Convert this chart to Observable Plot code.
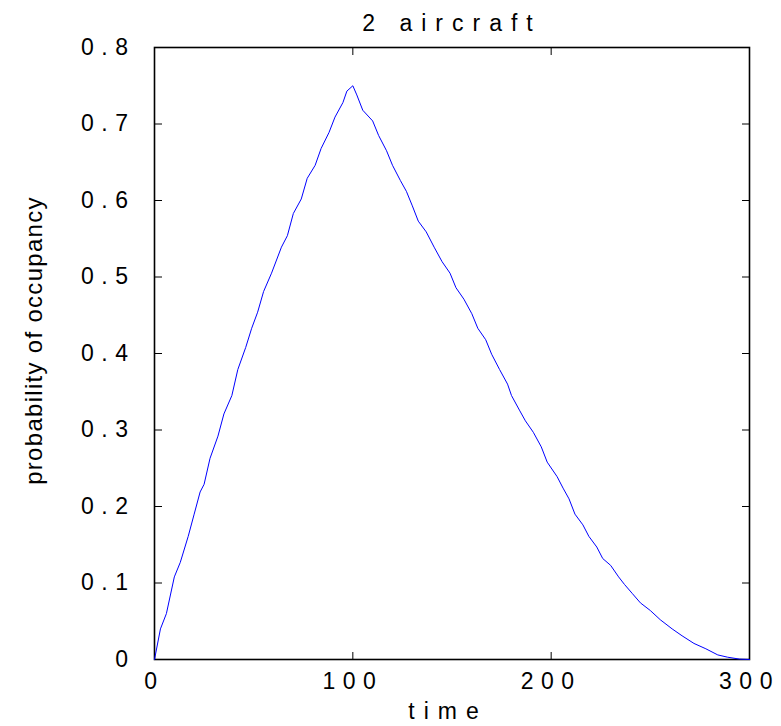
<!DOCTYPE html>
<html>
<head>
<meta charset="utf-8">
<script src="https://cdn.jsdelivr.net/npm/d3@7"></script>
<script src="https://cdn.jsdelivr.net/npm/@observablehq/plot@0.6"></script>
<style>
  html, body { margin: 0; padding: 0; background: #fff; }
  #chart svg { font-family: "Liberation Sans", Arial, sans-serif; }
  .spaced text { letter-spacing: 7.5px; }
  .titlesp text { letter-spacing: 9px; }
  .xlab text { letter-spacing: 9px; }
  .ylab text { letter-spacing: 1.3px; }
</style>
</head>
<body>
<div id="chart"></div>
<script>
const title = "2 aircraft";
const xLabel = "time";
const yLabel = "probability of occupancy";
const xTicks = [0, 100, 200, 300];
const yTicks = [0, 0.1, 0.2, 0.3, 0.4, 0.5, 0.6, 0.7, 0.8];

// time values and probability of occupancy
const time = [0, 3, 6, 10, 13, 17, 20, 23, 25, 28, 32, 35, 39, 42, 46, 49, 52, 55, 59, 64, 67, 70, 74, 77, 81, 84, 88, 91, 95, 97, 100,
  102, 105, 110, 113, 117, 120, 124, 127, 130, 133, 137, 141, 145, 149, 152, 156, 160, 163, 167, 170, 174, 178, 180, 184, 187, 191, 195, 198, 203, 206, 209, 212, 216, 219, 223, 226, 230, 234, 237, 241, 245, 250, 255, 261, 266, 272, 278, 284, 289, 295, 300];
const prob = [0, 0.040, 0.060, 0.108, 0.127, 0.161, 0.190, 0.219, 0.229, 0.263, 0.292, 0.321, 0.345, 0.379, 0.408, 0.433, 0.454, 0.481, 0.505, 0.539, 0.554, 0.583, 0.602, 0.629, 0.646, 0.668, 0.689, 0.709, 0.728, 0.743, 0.750,
  0.738, 0.718, 0.704, 0.685, 0.665, 0.646, 0.626, 0.612, 0.593, 0.573, 0.559, 0.539, 0.520, 0.505, 0.486, 0.471, 0.452, 0.433, 0.418, 0.399, 0.379, 0.360, 0.345, 0.326, 0.312, 0.297, 0.278, 0.258, 0.239, 0.224, 0.210, 0.190, 0.176, 0.161, 0.147, 0.132, 0.123, 0.108, 0.098, 0.086, 0.074, 0.064, 0.052, 0.040, 0.031, 0.021, 0.014, 0.006, 0.003, 0.0005, 0];

const data = time.map((t, i) => ({t, p: prob[i]}));

const chart = Plot.plot({
  width: 781,
  height: 726,
  marginLeft: 154,
  marginRight: 32,
  marginTop: 47,
  marginBottom: 67,
  style: {fontFamily: "'Liberation Sans', Arial, sans-serif", background: "#fff"},
  x: {domain: [0, 300], label: null},
  y: {domain: [0, 0.8], label: null},
  marks: [
    // inward ticks on all four sides
    Plot.axisX(xTicks, {anchor: "bottom", tickSize: -7, text: null, stroke: "black"}),
    Plot.axisX(xTicks, {anchor: "top", tickSize: -7, text: null, stroke: "black"}),
    Plot.axisY(yTicks, {anchor: "left", tickSize: -8, text: null, stroke: "black"}),
    Plot.axisY(yTicks, {anchor: "right", tickSize: -8, text: null, stroke: "black"}),
    // tick labels
    Plot.axisX(xTicks, {anchor: "bottom", tickSize: 0, tickPadding: 13, fontSize: 23, fill: "black", className: "spaced", tickFormat: d => String(d)}),
    Plot.axisY(yTicks, {anchor: "left", tickSize: 0, tickPadding: 19, fontSize: 23, fill: "black", className: "spaced", tickFormat: d => String(d)}),
    Plot.frame({stroke: "black", strokeWidth: 1.6}),
    Plot.line(data, {x: "t", y: "p", stroke: "#0000ff", strokeWidth: 1}),
    Plot.text([title], {frameAnchor: "top", dy: -33, fontSize: 23, fill: "black", className: "titlesp", text: d => d}),
    Plot.text([xLabel], {frameAnchor: "bottom", dx: -4, dy: 59, fontSize: 23, fill: "black", className: "xlab", text: d => d}),
    Plot.text([yLabel], {frameAnchor: "left", textAnchor: "middle", dx: -120, dy: -13, rotate: -90, fontSize: 24, fill: "black", className: "ylab", text: d => d})
  ]
});
document.getElementById("chart").appendChild(chart);
</script>
</body>
</html>
